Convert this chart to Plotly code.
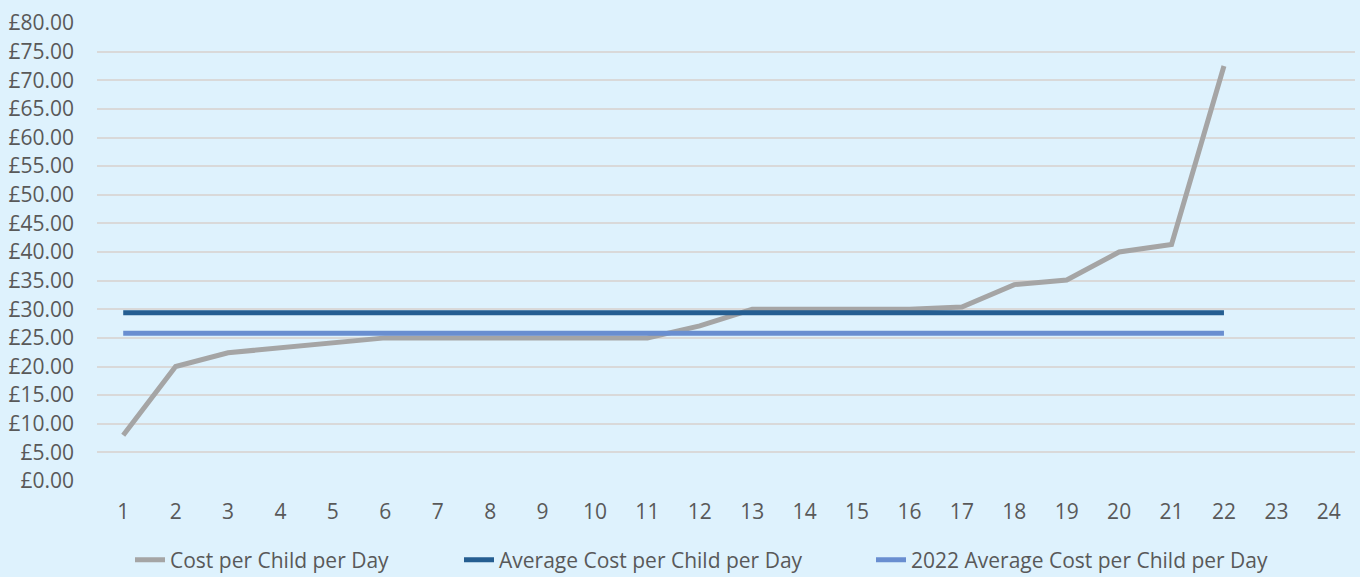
import plotly.graph_objects as go

# Provider index along the x axis and tick labels shown
x_ticks = list(range(1, 25))
providers = list(range(1, 23))

# Daily cost per child (GBP), sorted ascending
cost_per_child = [8.0, 20.0, 22.4, 23.2, 24.0, 25.0, 25.0, 25.0, 25.0, 25.0, 25.0,
                  27.1, 30.0, 30.0, 30.0, 30.0, 30.4, 34.3, 35.1, 40.0, 41.3, 72.5]
average_cost = 29.4
average_cost_2022 = 25.8

y_ticks = [i * 5 for i in range(17)]
y_labels = [f"£{v:.2f}" for v in y_ticks]

BG = "#DEF2FD"
TEXT = "#595959"
FONT = "Open Sans"
SIZE = 21

series = [
    ("Cost per Child per Day", cost_per_child, "#A5A5A5", "legend", 130),
    ("Average Cost per Child per Day", [average_cost] * len(providers), "#255E91", "legend2", 459),
    ("2022 Average Cost per Child per Day", [average_cost_2022] * len(providers), "#698ED0", "legend3", 871),
]

fig = go.Figure()
legend_layouts = {}
for name, values, color, legend_id, left_px in series:
    fig.add_trace(go.Scatter(
        x=providers, y=values, mode="lines", name=name,
        line=dict(color=color, width=5), legend=legend_id,
    ))
    # one single-entry legend per series, placed along the bottom
    legend_layouts[legend_id] = dict(
        orientation="h", xref="container", x=left_px / 1360, xanchor="left",
        yref="container", y=17 / 577, yanchor="middle",
        font=dict(family=FONT, size=SIZE, color=TEXT),
        bgcolor="rgba(0,0,0,0)", borderwidth=0,
    )

fig.update_layout(
    width=1360, height=577,
    paper_bgcolor=BG, plot_bgcolor=BG,
    margin=dict(l=97, r=5, t=23, b=96, autoexpand=False),
    font=dict(family=FONT, size=SIZE, color=TEXT),
    showlegend=True,
    **legend_layouts,
    xaxis=dict(
        range=[0.5, 24.5], tickmode="array", tickvals=x_ticks,
        ticktext=[str(v) for v in x_ticks],
        showgrid=False, zeroline=False, showline=False,
        ticks="", ticklabelstandoff=16,
    ),
    yaxis=dict(
        range=[0, 80], tickmode="array", tickvals=y_ticks, ticktext=y_labels,
        showgrid=True, gridcolor="#D9D9D9", gridwidth=1.6,
        zeroline=False, showline=False, ticks="", ticklabelstandoff=22,
    ),
)

fig.write_html("out.html")
